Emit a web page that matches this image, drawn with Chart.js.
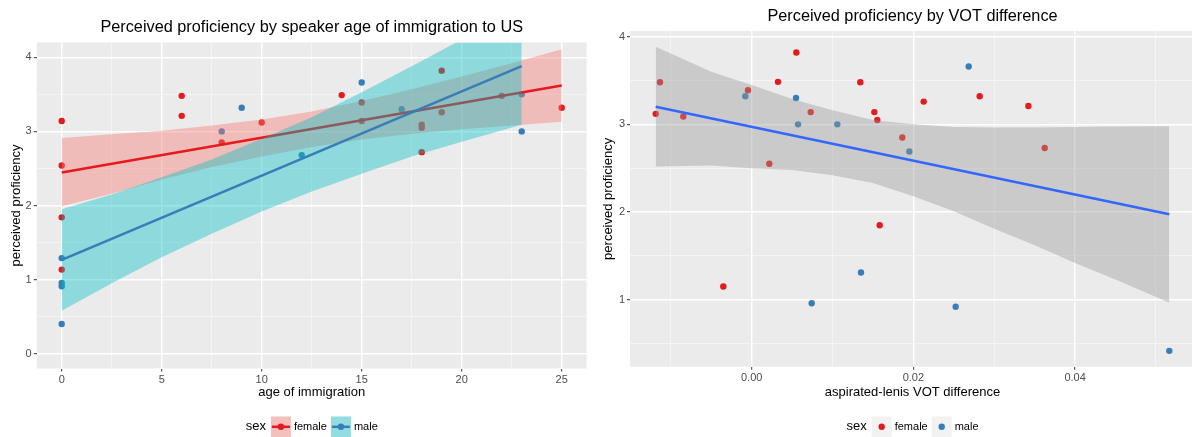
<!DOCTYPE html>
<html>
<head>
<meta charset="utf-8">
<script src="https://cdn.jsdelivr.net/npm/chart.js@4.4.1/dist/chart.umd.min.js"></script>
<style>
  html, body { margin: 0; padding: 0; background: #fff; width: 1192px; height: 437px; overflow: hidden; }
  canvas { position: absolute; top: 0; }
  #ageChart { left: 0; }
  #votChart { left: 596px; }
</style>
</head>
<body>
<canvas id="ageChart" width="624" height="437" style="width:624px;height:437px"></canvas>
<canvas id="votChart" width="633" height="437" style="width:633px;height:437px"></canvas>
<script>
// ---- left panel: age of immigration ----
const femaleAge = [0, 0, 0, 0, 6, 6, 8, 10, 14, 15, 15, 18, 18, 18, 19, 19, 22, 25];
const femaleAgeProf = [3.14, 2.54, 1.84, 1.135, 3.48, 3.21, 2.85, 3.12, 3.49, 3.39, 3.14, 3.09, 3.05, 2.72, 3.82, 3.26, 3.48, 3.32];
const maleAge = [0, 0, 0, 0, 8, 9, 12, 15, 17, 23, 23];
const maleAgeProf = [1.29, 0.955, 0.91, 0.40, 3.0, 3.32, 2.68, 3.66, 3.30, 3.50, 3.0];

const femaleFitX = [0, 25];
const femaleFitY = [2.446, 3.62];
const femaleBandX = [0, 2.5, 5, 7.5, 10, 12.5, 15, 17.5, 20, 22.5, 25];
const femaleBandHi = [2.91, 2.96, 3.01, 3.08, 3.16, 3.27, 3.41, 3.57, 3.74, 3.92, 4.11];
const femaleBandLo = [1.99, 2.16, 2.35, 2.52, 2.66, 2.79, 2.89, 2.97, 3.03, 3.08, 3.13];

const maleFitX = [0, 23];
const maleFitY = [1.265, 3.88];
const maleBandX = [0, 2.5, 5, 7.5, 10, 12.5, 15, 17.5, 20, 23];
const maleBandHi = [1.95, 2.15, 2.38, 2.62, 2.90, 3.19, 3.53, 3.88, 4.24, 4.69];
const maleBandLo = [0.58, 0.95, 1.30, 1.62, 1.92, 2.19, 2.43, 2.66, 2.86, 3.09];

const ageTicks = [0, 5, 10, 15, 20, 25];
const ageLabels = ["0", "5", "10", "15", "20", "25"];
const ageMinor = [2.5, 7.5, 12.5, 17.5, 22.5];
const profTicks = [0, 1, 2, 3, 4];
const profLabels = ["0", "1", "2", "3", "4"];
const profMinor = [0.5, 1.5, 2.5, 3.5];

// ---- right panel: VOT difference ----
const femaleVot = [-0.01187, -0.01134, -0.00846, -0.00351, -0.00046, 0.00218, 0.00325, 0.00552, 0.0073, 0.01343, 0.01517, 0.01554, 0.01583, 0.01863, 0.02127, 0.0282, 0.03422, 0.03624];
const femaleVotProf = [3.12, 3.48, 3.09, 1.15, 3.39, 2.55, 3.485, 3.82, 3.14, 3.48, 3.14, 3.05, 1.85, 2.85, 3.26, 3.32, 3.21, 2.73];
const maleVot = [-0.00079, 0.00548, 0.00573, 0.00742, 0.01059, 0.01352, 0.0195, 0.02523, 0.02684, 0.05165];
const maleVotProf = [3.32, 3.30, 3.0, 0.96, 3.0, 1.31, 2.69, 0.92, 3.66, 0.417];

const votFitX = [-0.01187, 0.05165];
const votFitY = [3.20, 1.975];
const votBandX = [-0.01187, -0.005, 0, 0.005, 0.01, 0.015, 0.02, 0.025, 0.03, 0.035, 0.04, 0.045, 0.05165];
const votBandHi = [3.886, 3.60, 3.45, 3.29, 3.16, 3.05, 3.00, 2.97, 2.965, 2.965, 2.97, 2.975, 2.98];
const votBandLo = [2.52, 2.53, 2.50, 2.48, 2.42, 2.33, 2.18, 2.01, 1.81, 1.62, 1.42, 1.23, 0.966];

const votTicks = [0, 0.02, 0.04];
const votLabels = ["0.00", "0.02", "0.04"];
const votMinor = [-0.01, 0.01, 0.03, 0.05];
const votProfTicks = [1, 2, 3, 4];
const votProfLabels = ["1", "2", "3", "4"];
const votProfMinor = [0.5, 1.5, 2.5, 3.5];

const RED = "#E41A1C";
const BLUE = "#377EB8";
const FONT = "'Liberation Sans', Arial, sans-serif";

Chart.defaults.font.family = FONT;
Chart.defaults.color = "#4D4D4D";

const pts = (xs, ys) => xs.map((x, i) => ({x: x, y: ys[i]}));
const findTick = (v, arr) => arr.findIndex(t => Math.abs(t - v) < 1e-9);

function axis(min, max, majors, labels, minors, extra) {
    const all = majors.concat(minors).sort((a, b) => a - b);
    const isMajor = c => c.tick && findTick(c.tick.value, majors) >= 0;
    return Object.assign({
        type: "linear",
        min: min,
        max: max,
        afterBuildTicks: s => { s.ticks = all.map(v => ({value: v})); },
        border: {display: false},
        grid: {
            color: c => isMajor(c) ? "#FFFFFF" : "#F6F6F6",
            lineWidth: c => isMajor(c) ? 1.4 : 0.8,
            tickColor: c => isMajor(c) ? "#333333" : "rgba(0,0,0,0)",
            tickLength: 3,
            tickWidth: 1
        },
        ticks: {
            autoSkip: false,
            maxRotation: 0,
            padding: 2,
            color: "#4D4D4D",
            font: {size: 11},
            callback: v => {
                const i = findTick(v, majors);
                return i >= 0 ? labels[i] : "";
            }
        }
    }, extra);
}

const panelBg = {
    id: "panelBg",
    beforeDraw(chart) {
        const a = chart.chartArea;
        chart.ctx.save();
        chart.ctx.fillStyle = "#EBEBEB";
        chart.ctx.fillRect(a.left, a.top, a.right - a.left, a.bottom - a.top);
        chart.ctx.restore();
    }
};

// title centred over the panel, like ggplot does
function panelTitle(text, y) {
    return {
        id: "panelTitle",
        afterDraw(chart) {
            const ctx = chart.ctx;
            const a = chart.chartArea;
            ctx.save();
            ctx.font = "16.3px " + FONT;
            ctx.fillStyle = "#000";
            ctx.textAlign = "center";
            ctx.textBaseline = "middle";
            ctx.fillText(text, (a.left + a.right) / 2, y);
            ctx.restore();
        }
    };
}

// legend at the bottom: "sex" then one key per group
function sexLegend(keys) {
    return {
        id: "sexLegend",
        afterDraw(chart) {
            const ctx = chart.ctx;
            const a = chart.chartArea;
            const cx = (a.left + a.right) / 2;
            const cy = 426.8;
            ctx.save();
            ctx.textBaseline = "middle";
            ctx.font = "13px " + FONT;
            const wSex = ctx.measureText("sex").width;
            ctx.font = "11px " + FONT;
            const widths = keys.map(k => ctx.measureText(k.label).width);
            let total = wSex + 5;
            widths.forEach((w, i) => { total += 20 + 3 + w + (i < keys.length - 1 ? 4 : 0); });
            let x = cx - total / 2;
            ctx.fillStyle = "#000";
            ctx.font = "13px " + FONT;
            ctx.fillText("sex", x, cy);
            x += wSex + 5;
            keys.forEach((k, i) => {
                ctx.fillStyle = "#F2F2F2";
                ctx.fillRect(x, cy - 10.3, 20, 20.6);
                if (k.fill) {
                    ctx.fillStyle = k.fill;
                    ctx.fillRect(x, cy - 10.3, 20, 20.6);
                }
                if (k.line) {
                    ctx.strokeStyle = k.line;
                    ctx.lineWidth = 2.5;
                    ctx.beginPath();
                    ctx.moveTo(x + 1, cy);
                    ctx.lineTo(x + 19, cy);
                    ctx.stroke();
                }
                ctx.fillStyle = k.point;
                ctx.beginPath();
                ctx.arc(x + 10, cy, 3.2, 0, Math.PI * 2);
                ctx.fill();
                x += 23;
                ctx.fillStyle = "#000";
                ctx.font = "11px " + FONT;
                ctx.fillText(k.label, x, cy);
                x += widths[i] + 4;
            });
            ctx.restore();
        }
    };
}

const bandLine = (data, fill, color) => ({
    type: "line", data: data, fill: fill, backgroundColor: color,
    borderColor: "rgba(0,0,0,0)", borderWidth: 0, pointRadius: 0, tension: 0
});
const fitLine = (data, color) => ({
    type: "line", data: data, fill: false, borderColor: color,
    borderWidth: 2.5, pointRadius: 0, tension: 0
});
const dots = (data, color) => ({
    type: "scatter", data: data, backgroundColor: color,
    borderWidth: 0, pointRadius: 3.2, pointHoverRadius: 3.2
});

// first dataset in the list is drawn on top
new Chart(document.getElementById("ageChart").getContext("2d"), {
    type: "scatter",
    data: {
        datasets: [
            fitLine(pts(maleFitX, maleFitY), BLUE),
            bandLine(pts(maleBandX, maleBandHi), "+1", "rgba(0,191,196,0.4)"),
            bandLine(pts(maleBandX, maleBandLo), false, "rgba(0,0,0,0)"),
            fitLine(pts(femaleFitX, femaleFitY), RED),
            bandLine(pts(femaleBandX, femaleBandHi), "+1", "rgba(248,118,109,0.4)"),
            bandLine(pts(femaleBandX, femaleBandLo), false, "rgba(0,0,0,0)"),
            dots(pts(maleAge, maleAgeProf), BLUE),
            dots(pts(femaleAge, femaleAgeProf), RED)
        ]
    },
    options: {
        responsive: false,
        animation: false,
        devicePixelRatio: 1,
        events: [],
        layout: {padding: {left: 0, top: 42.5, right: 37.3, bottom: 36.7}},
        plugins: {
            legend: {display: false},
            tooltip: {enabled: false}
        },
        scales: {
            x: axis(-1.25, 26.25, ageTicks, ageLabels, ageMinor, {
                afterFit: s => { s.height = 31.8; },
                title: {display: true, text: "age of immigration", color: "#000", font: {size: 13}, padding: {top: 0, bottom: 0}}
            }),
            y: axis(-0.2, 4.2, profTicks, profLabels, profMinor, {
                afterFit: s => { s.width = 36.7; },
                title: {display: true, text: "perceived proficiency", color: "#000", font: {size: 13}, padding: {top: 8.7, bottom: 0}}
            })
        }
    },
    plugins: [panelBg,
        panelTitle("Perceived proficiency by speaker age of immigration to US", 27.5),
        sexLegend([
            {label: "female", fill: "rgba(248,118,109,0.4)", line: RED, point: RED},
            {label: "male", fill: "rgba(0,191,196,0.4)", line: BLUE, point: BLUE}
        ])]
});

new Chart(document.getElementById("votChart").getContext("2d"), {
    type: "scatter",
    data: {
        datasets: [
            fitLine(pts(votFitX, votFitY), "#3366FF"),
            bandLine(pts(votBandX, votBandHi), "+1", "rgba(153,153,153,0.4)"),
            bandLine(pts(votBandX, votBandLo), false, "rgba(0,0,0,0)"),
            dots(pts(maleVot, maleVotProf), BLUE),
            dots(pts(femaleVot, femaleVotProf), RED)
        ]
    },
    options: {
        responsive: false,
        animation: false,
        devicePixelRatio: 1,
        events: [],
        layout: {padding: {left: 0, top: 31, right: 34, bottom: 37.2}},
        plugins: {
            legend: {display: false},
            tooltip: {enabled: false}
        },
        scales: {
            x: axis(-0.01505, 0.05483, votTicks, votLabels, votMinor, {
                afterFit: s => { s.height = 33.1; },
                title: {display: true, text: "aspirated-lenis VOT difference", color: "#000", font: {size: 13}, padding: {top: 0, bottom: 0}}
            }),
            y: axis(0.236, 4.065, votProfTicks, votProfLabels, votProfMinor, {
                afterFit: s => { s.width = 34; },
                title: {display: true, text: "perceived proficiency", color: "#000", font: {size: 13}, padding: {top: 4.9, bottom: 0}}
            })
        }
    },
    plugins: [panelBg,
        panelTitle("Perceived proficiency by VOT difference", 17),
        sexLegend([
            {label: "female", point: RED},
            {label: "male", point: BLUE}
        ])]
});
</script>
</body>
</html>
